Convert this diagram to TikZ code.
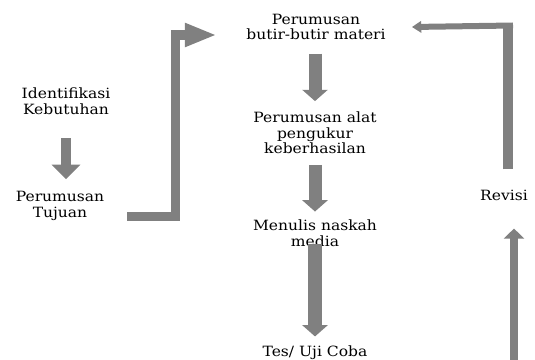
\documentclass[tikz,border=0pt]{standalone}
\usepackage{fontspec}
\setmainfont{DejaVu Serif}[FakeStretch=1.1]
\usepackage{tikz}
\usetikzlibrary{arrows.meta,positioning}

\begin{document}
\begin{tikzpicture}[
  x=0.75pt, y=-0.75pt,
  every node/.style={font=\fontsize{10.6}{11.6}\selectfont},
  lbl/.style={inner sep=0pt, align=center},
  darr/.style={draw=gray, line width=9.75pt, -{Triangle[width=18.75pt,length=8.5pt]}},
  bar/.style={draw=gray, line width=7pt, line join=miter},
]
\useasboundingbox (0,0) rectangle (535,360);
\node[lbl] (idk) at (66,101) {Identifikasi\\Kebutuhan};
\node[lbl] (tujuan) at (60,206) {Perumusan\\Tujuan};
\node[lbl] (materi) at (316,27) {Perumusan\\butir-butir materi};
\node[lbl] (alat) at (315,133) {Perumusan alat\\pengukur\\keberhasilan};
\node[lbl] (naskah) at (315,233) {Menulis naskah\\media};
\node[lbl] (uji) at (315,353) {Tes/ Uji Coba};
\node[lbl] (revisi) at (504,195) {Revisi};
\coordinate (sudut) at (513,25.5);
% alur utama
\draw[darr, line width=7.5pt, -{Triangle[width=21pt,length=11pt]}] ([yshift=-18pt]idk.south) -- ([yshift=9pt]idk.south |- tujuan.north);
\draw[darr] ([yshift=-10pt]alat.north |- materi.south) -- ([yshift=8pt]alat.north);
\draw[darr] ([yshift=-8pt]alat.south) -- ([yshift=6pt]naskah.north);
\draw[darr, line width=10.5pt] ([yshift=2pt]naskah.south) -- ([yshift=7pt]uji.north);
% ke materi
\draw[bar, -{Triangle[width=16.5pt,length=24pt]}] ([xshift=17pt,yshift=-8pt]tujuan.east) -| ([xshift=-53pt,yshift=-6pt]materi.west) -- ([xshift=-22pt,yshift=-6pt]materi.west);
% revisi
\draw[bar, line width=6pt, -{Triangle[width=15pt,length=7.5pt]}] ([xshift=88pt,yshift=-8pt]uji.east) -| ([xshift=7.5pt,yshift=-21pt]revisi.south);
\draw[bar, line width=7.5pt] ([xshift=3pt,yshift=15pt]revisi.north) -- ([xshift=-3.75pt,yshift=2pt]sudut);
\draw[bar, line width=4.5pt, -{Triangle[width=8.5pt,length=7pt]}] (sudut) -- ([xshift=19.5pt]materi.east);
\end{tikzpicture}
\end{document}
